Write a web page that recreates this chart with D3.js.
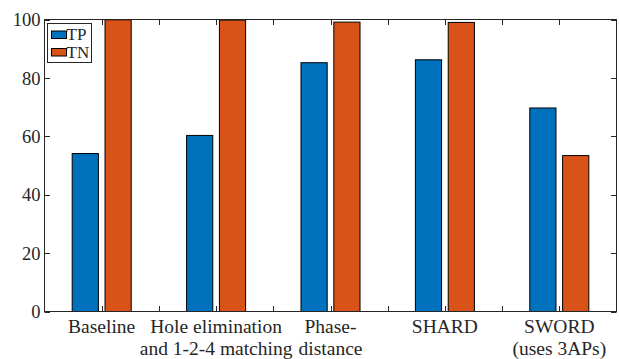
<!DOCTYPE html>
<html>
<head>
<meta charset="utf-8">
<script src="https://cdn.jsdelivr.net/npm/d3@7"></script>
</head>
<body style="margin:0;background:#fff">
<svg id="chart" width="619" height="359" style="display:block"></svg>
<script>
// ---- data ----
const categories = [
  ["Baseline"],
  ["Hole elimination", "and 1-2-4 matching"],
  ["Phase-", "distance"],
  ["SHARD"],
  ["SWORD", "(uses 3APs)"]
];
const seriesNames = ["TP", "TN"];
const tpValues = [54.1, 60.3, 85.2, 86.2, 69.7];
const tnValues = [99.9, 99.8, 99.1, 99.0, 53.4];
const yTicks = [0, 20, 40, 60, 80, 100];
const xTicks = [1, 1.5, 2, 2.5, 3, 3.5, 4, 4.5, 5];
const colors = ["#0072BD", "#D95319"];

// ---- layout ----
const svg = d3.select("#chart");
const L = 44.5, R = 616.5, T = 19.5, B = 311.5;
const axisColor = "#262626";
const FONT = '"Liberation Serif"';

const x = d3.scaleLinear().domain([0.5, 5.5]).range([L, R]);
const y = d3.scaleLinear().domain([0, 100]).range([B, T]);

const barW = 0.229;     // in x units
const barOff = 0.1435;  // offset of each bar center from group center
const series = [tpValues, tnValues];

// ticks (drawn under bars)
const tickLen = 5.5;
const gT = svg.append("g");
xTicks.forEach(t => {
  const px = Math.round(x(t)) + 0.5;
  gT.append("line").attr("x1", px).attr("x2", px).attr("y1", B).attr("y2", B - tickLen)
    .attr("stroke", axisColor).attr("stroke-width", 1);
  gT.append("line").attr("x1", px).attr("x2", px).attr("y1", T).attr("y2", T + tickLen)
    .attr("stroke", axisColor).attr("stroke-width", 1);
});
yTicks.forEach(t => {
  const py = Math.round(y(t)) + 0.5;
  gT.append("line").attr("x1", L).attr("x2", L + tickLen).attr("y1", py).attr("y2", py)
    .attr("stroke", axisColor).attr("stroke-width", 1);
  gT.append("line").attr("x1", R).attr("x2", R - tickLen).attr("y1", py).attr("y2", py)
    .attr("stroke", axisColor).attr("stroke-width", 1);
});

// bars
series.forEach((vals, si) => {
  const off = si === 0 ? -barOff : barOff;
  svg.append("g").selectAll("rect").data(vals).join("rect")
    .attr("x", (d, i) => x(i + 1 + off - barW / 2))
    .attr("width", x(barW) - x(0))
    .attr("y", d => y(d))
    .attr("height", d => y(0) - y(d))
    .attr("fill", colors[si])
    .attr("stroke", "#000")
    .attr("stroke-width", 1);
});

// box
svg.append("rect").attr("x", L).attr("y", T).attr("width", R - L).attr("height", B - T)
  .attr("fill", "none").attr("stroke", axisColor).attr("stroke-width", 1);

// y tick labels
const yAxis = d3.axisLeft(y).tickValues(yTicks).tickSize(0).tickPadding(4);
const gy = svg.append("g").attr("transform", `translate(${L},0)`).call(yAxis);
gy.attr("font-family", null).attr("font-size", null);
gy.select(".domain").remove();
gy.selectAll("text")
  .style("font-family", FONT).style("font-size", "18.5px")
  .attr("fill", axisColor).attr("dy", "0.34em");

// x category labels
categories.forEach((lines, i) => {
  const t = svg.append("text").attr("text-anchor", "middle")
    .style("font-family", FONT).style("font-size", "19.5px").attr("fill", axisColor);
  lines.forEach((ln, j) => {
    t.append("tspan").attr("x", x(i + 1)).attr("y", 333 + j * 21.6).text(ln);
  });
});

// legend
const lg = svg.append("g");
lg.append("rect").attr("x", 47.5).attr("y", 23.5).attr("width", 44).attr("height", 39)
  .attr("fill", "#fff").attr("stroke", axisColor).attr("stroke-width", 1);
seriesNames.forEach((name, i) => {
  const yy = 31 + i * 17.5;
  lg.append("rect").attr("x", 51.5).attr("y", yy).attr("width", 15).attr("height", 7.5)
    .attr("fill", colors[i]).attr("stroke", "#000").attr("stroke-width", 1);
  lg.append("text").attr("x", 66.5).attr("y", yy + 9.2).attr("fill", axisColor)
    .style("font-family", FONT).style("font-size", "17px").text(name);
});
</script>
</body>
</html>
